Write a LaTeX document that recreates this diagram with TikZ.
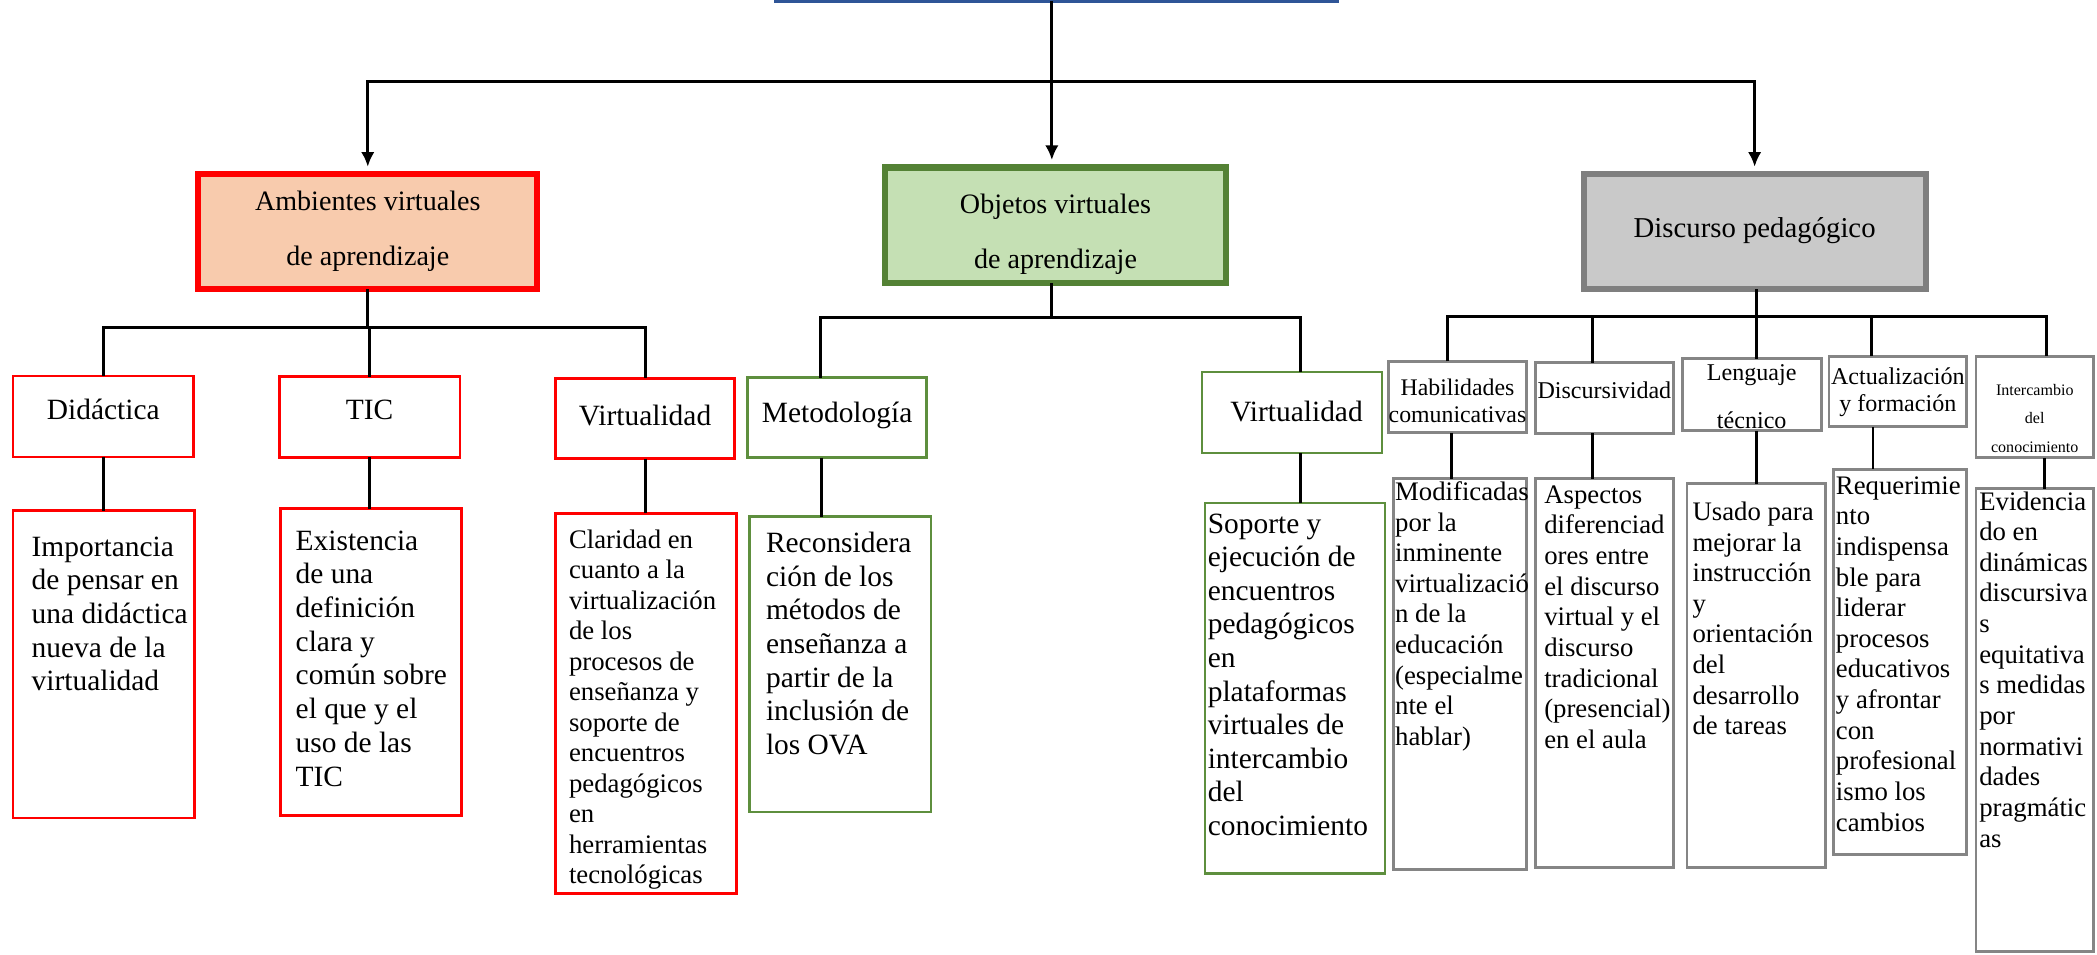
\documentclass[tikz,border=0pt]{standalone}
\usepackage{fontspec}
\setmainfont{Liberation Serif}
\usetikzlibrary{arrows.meta}
\definecolor{redc}{HTML}{FF0000}
\definecolor{grnk}{HTML}{548235}
\definecolor{grnt}{HTML}{5E8F3E}
\definecolor{gryk}{HTML}{7F7F7F}
\definecolor{gryt}{HTML}{858585}
\definecolor{bluc}{HTML}{2F5597}
\definecolor{ambf}{HTML}{F8CBAD}
\definecolor{objf}{HTML}{C5E0B4}
\definecolor{disf}{HTML}{C9C9C9}
\newcommand\cb[4]{\parbox[c][#1][t]{#2}{\vspace*{#3}\centering #4\par}}
\newcommand\lb[5]{\parbox[c][#1][t]{#2}{\vspace*{#3}\raggedright\leftskip=#4\relax #5\par}}
\newcommand\LL[1]{\mbox{\strut #1}}
\tikzset{
  conn/.style={line width=2.2pt, black},
  arr/.style={conn, -{Latex[length=11pt,width=10pt]}, shorten >=5.5pt},
  bx/.style={rectangle, inner sep=0pt, outer sep=0pt},
  lone/.style={bx, line width=4.5pt},
  redb/.style={bx, draw=redc, line width=2pt},
  grnb/.style={bx, draw=grnt, line width=2pt},
  gryb/.style={bx, draw=gryt, line width=2.2pt},
  fA/.style={font=\fontsize{21}{41}\selectfont},
  fB/.style={font=\fontsize{22}{26}\selectfont},
  fC/.style={font=\fontsize{18}{20}\selectfont},
  fD/.style={font=\fontsize{20}{22.9}\selectfont},
  fE/.style={font=\fontsize{22}{25.2}\selectfont},
}
\begin{document}
\begin{tikzpicture}[x=1pt,y=-1pt]
\useasboundingbox (0,0) rectangle (1568,714);
\clip (0,0) rectangle (1568,714);
% root (only its lower edge is visible)
\node[bx, draw=bluc, line width=2.2pt, minimum width=420.7pt, minimum height=60pt] (root) at (789.85,-29) {};
% level 1
\node[lone, draw=redc, fill=ambf, fA] (amb) at (275,173.25) {\cb{86pt}{253.5pt}{-1.45pt}{\LL{Ambientes virtuales}\\\LL{de aprendizaje}}};
\node[lone, draw=grnk, fill=objf, fA] (obj) at (789.25,168.5) {\cb{86.5pt}{255pt}{5.55pt}{\LL{Objetos virtuales}\\\LL{de aprendizaje}}};
\node[lone, draw=gryk, fill=disf, font=\fontsize{21.5}{26}\selectfont] (dis) at (1312,173.25) {\cb{86pt}{255.5pt}{29.25pt}{\LL{Discurso pedagógico}}};
% level 2
\node[redb, fB] (did) at (77.25,311.4) {\cb{60.6pt}{135.1pt}{14.7pt}{\LL{Didáctica}}};
\node[redb, fB] (tic) at (276.4,311.8) {\cb{60.4pt}{135pt}{14.2pt}{\LL{TIC}}};
\node[redb, fB] (vir1) at (482.35,313) {\cb{60pt}{133.9pt}{16.6pt}{\LL{Virtualidad}}};
\node[grnb, fB] (met) at (625.95,312.25) {\cb{59.7pt}{133.9pt}{15.4pt}{\LL{Metodología}}};
\node[grnb, fB] (vir2) at (966.1,308.4) {\cb{60.6pt}{134.6pt}{18.9pt}{\LL{\hspace*{6.8pt}Virtualidad}}};
\node[gryb, font=\fontsize{17.8}{20}\selectfont] (hab) at (1089.8,296.95) {\cb{53.5pt}{103.4pt}{11.7pt}{\LL{Habilidades}\\\LL{comunicativas}}};
\node[gryb, fC] (dsv) at (1199.65,297.65) {\cb{52.7pt}{103.5pt}{12.7pt}{\LL{Discursividad}}};
\node[gryb, font=\fontsize{18}{35.5}\selectfont] (len) at (1309.8,295.15) {\cb{53.5pt}{104pt}{-8.45pt}{\LL{Lenguaje}\\\LL{técnico}}};
\node[gryb, fC] (act) at (1419.1,292.75) {\cb{52.9pt}{103pt}{7.5pt}{\LL{Actualización}\\\LL{y formación}}};
\node[gryb, font=\fontsize{12}{21}\selectfont] (int) at (1521.45,304.35) {\cb{76.1pt}{87.9pt}{15pt}{\LL{Intercambio}\\\LL{del}\\\LL{conocimiento}}};
% level 3
\node[redb, fE] (imp) at (77.5,496.7) {\lb{229.8pt}{135.6pt}{16.3pt}{14pt}{\LL{Importancia}\\\LL{de pensar en}\\\LL{una didáctica}\\\LL{nueva de la}\\\LL{virtualidad}}};
\node[redb, fE] (exi) at (277.3,495.1) {\lb{229.6pt}{135.4pt}{13.4pt}{11.5pt}{\LL{Existencia}\\\LL{de una}\\\LL{definición}\\\LL{clara y}\\\LL{común sobre}\\\LL{el que y el}\\\LL{uso de las}\\\LL{TIC}}};
\node[redb, font=\fontsize{20}{22.8}\selectfont] (cla) at (482.9,526) {\lb{284.4pt}{135.4pt}{10.2pt}{10.3pt}{\LL{Claridad en}\\\LL{cuanto a la}\\\LL{virtualización}\\\LL{de los}\\\LL{procesos de}\\\LL{enseñanza y}\\\LL{soporte de}\\\LL{encuentros}\\\LL{pedagógicos}\\\LL{en}\\\LL{herramientas}\\\LL{tecnológicas}}};
\node[grnb, fE] (rec) at (628.3,496.7) {\lb{220.8pt}{135.6pt}{9.1pt}{12.3pt}{\LL{Reconsidera}\\\LL{ción de los}\\\LL{métodos de}\\\LL{enseñanza a}\\\LL{partir de la}\\\LL{inclusión de}\\\LL{los OVA}}};
\node[grnb, font=\fontsize{22}{25.1}\selectfont] (sop) at (968.2,514.6) {\lb{277pt}{134.6pt}{5pt}{2.2pt}{\LL{Soporte y}\\\LL{ejecución de}\\\LL{encuentros}\\\LL{pedagógicos}\\\LL{en}\\\LL{plataformas}\\\LL{virtuales de}\\\LL{intercambio}\\\LL{del}\\\LL{conocimiento}}};
\node[gryb, fD] (mod) at (1091.6,503.9) {\lb{292.2pt}{99.8pt}{0.4pt}{1.5pt}{\LL{Modificadas}\\\LL{por la}\\\LL{inminente}\\\LL{virtualizació}\\\LL{n de la}\\\LL{educación}\\\LL{(especialme}\\\LL{nte el}\\\LL{hablar)}}};
\node[gryb, fD] (asp) at (1199.9,503.3) {\lb{290.4pt}{103pt}{2.2pt}{6.3pt}{\LL{Aspectos}\\\LL{diferenciad}\\\LL{ores entre}\\\LL{el discurso}\\\LL{virtual y el}\\\LL{discurso}\\\LL{tradicional}\\\LL{(presencial)}\\\LL{en el aula}}};
\node[gryb, fD] (usa) at (1313.15,505.05) {\lb{286.9pt}{103.5pt}{11.5pt}{4.2pt}{\LL{Usado para}\\\LL{mejorar la}\\\LL{instrucción}\\\LL{y}\\\LL{orientación}\\\LL{del}\\\LL{desarrollo}\\\LL{de tareas}}};
\node[gryb, fD] (req) at (1420.95,494.95) {\lb{288.1pt}{99.3pt}{2.6pt}{1.5pt}{\LL{Requerimie}\\\LL{nto}\\\LL{indispensa}\\\LL{ble para}\\\LL{liderar}\\\LL{procesos}\\\LL{educativos}\\\LL{y afrontar}\\\LL{con}\\\LL{profesional}\\\LL{ismo los}\\\LL{cambios}}};
\node[gryb, fD] (evi) at (1521.45,538.45) {\lb{345.9pt}{87.9pt}{-0.1pt}{2.5pt}{\LL{Evidencia}\\\LL{do en}\\\LL{dinámicas}\\\LL{discursiva}\\\LL{s}\\\LL{equitativa}\\\LL{s medidas}\\\LL{por}\\\LL{normativi}\\\LL{dades}\\\LL{pragmátic}\\\LL{as}}};
% top connectors
\coordinate (tb) at (786.5,61);
\draw[arr] (tb) -| (amb.north);
\draw[arr] (tb) -| (dis.north);
\draw[arr] (root.south -| tb) -- (tb |- obj.north);
% Ambientes
\coordinate (ab) at (275,245);
\draw[conn] (amb.south) -- (ab);
\draw[conn] (did.north) |- (ab) -| (vir1.north);
\draw[conn] (tic.north) -- (tic.north |- ab);
\draw[conn] (did.south) -- (did.south |- imp.north);
\draw[conn] (tic.south) -- (tic.south |- exi.north);
\draw[conn] (vir1.south) -- (vir1.south |- cla.north);
% Objetos
\coordinate (ob) at (786.4,237.5);
\coordinate (mx) at (613.7,0);
\coordinate (my) at (614.6,0);
\coordinate (vx) at (972.2,0);
\draw[conn] (obj.south -| ob) -- (ob);
\draw[conn] (mx |- met.north) |- (ob) -| (vx |- vir2.north);
\draw[conn] (my |- met.south) -- (my |- rec.north);
\draw[conn] (vx |- vir2.south) -- (vx |- sop.north);
% Discurso
\coordinate (db) at (1313.7,236.8);
\coordinate (hx) at (1082.5,0);
\coordinate (dx) at (1190.8,0);
\coordinate (lx) at (1313.2,0);
\coordinate (ax) at (1399.5,0);
\coordinate (ix) at (1530.3,0);
\coordinate (hy) at (1085,0);
\coordinate (ay) at (1400.5,0);
\coordinate (iy) at (1529,0);
\draw[conn] (dis.south -| db) -- (db);
\draw[conn] (hx |- hab.north) |- (db) -| (ix |- int.north);
\draw[conn] (dx |- dsv.north) -- (dx |- db);
\draw[conn] (lx |- len.north) -- (lx |- db);
\draw[conn] (ax |- act.north) -- (ax |- db);
\draw[conn] (hy |- hab.south) -- (hy |- mod.north);
\draw[conn] (dx |- dsv.south) -- (dx |- asp.north);
\draw[conn] (lx |- len.south) -- (lx |- usa.north);
\draw[conn] (ay |- act.south) -- (ay |- req.north);
\draw[conn] (iy |- int.south) -- (iy |- evi.north);
\end{tikzpicture}
\end{document}
